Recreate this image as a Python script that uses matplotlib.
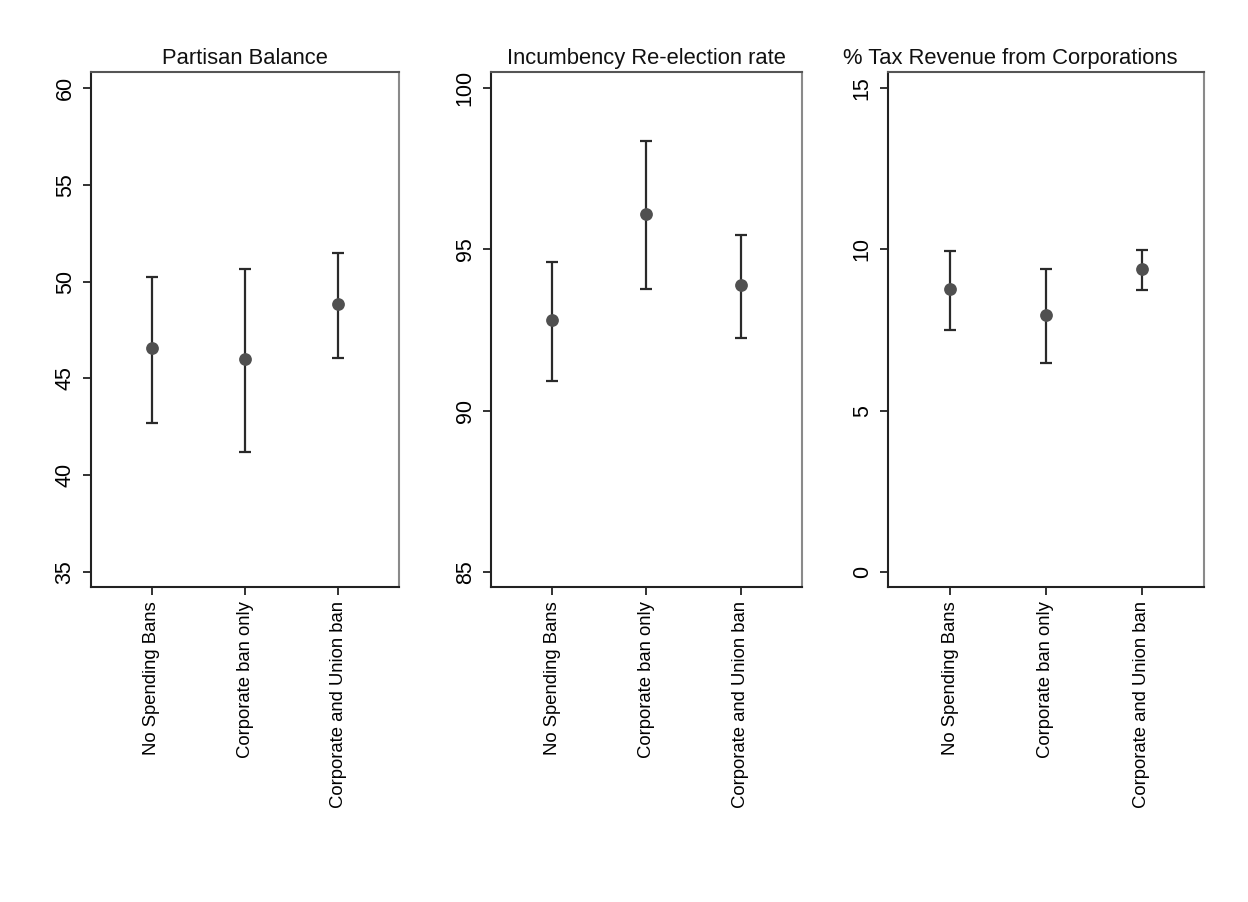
import matplotlib
matplotlib.use("Agg")
import matplotlib.pyplot as plt

plt.rcParams['font.family'] = ['Liberation Sans', 'DejaVu Sans']

categories = ["No Spending Bans", "Corporate ban only", "Corporate and Union ban"]

titles = ["Partisan Balance", "Incumbency Re-election rate", "% Tax Revenue from Corporations"]

partisan_mean = [46.55, 46.00, 48.83]
partisan_low = [42.71, 41.18, 46.07]
partisan_high = [50.25, 50.64, 51.46]

incumb_mean = [92.81, 96.10, 93.90]
incumb_low = [90.93, 93.76, 92.27]
incumb_high = [94.60, 98.37, 95.44]

tax_mean = [8.76, 7.96, 9.40]
tax_low = [7.52, 6.47, 8.74]
tax_high = [9.95, 9.38, 9.97]

yticks_list = [[35, 40, 45, 50, 55, 60], [85, 90, 95, 100], [0, 5, 10, 15]]
ylims = [(34.23, 60.83), (84.54, 100.5), (-0.46, 15.5)]

means = [partisan_mean, incumb_mean, tax_mean]
lows = [partisan_low, incumb_low, tax_low]
highs = [partisan_high, incumb_high, tax_high]

W, H = 1248, 902
fig = plt.figure(figsize=(W / 100, H / 100), dpi=100)
panel_px = [(91, 399), (491, 802), (888, 1204)]
title_x = [0.5, 0.5, 0.386]
top_px, bot_px = 72, 587

x = [1, 2, 3]
for i in range(3):
    l, r = panel_px[i]
    ax = fig.add_axes([l / W, 1 - bot_px / H, (r - l) / W, (bot_px - top_px) / H])
    m = means[i]
    lo = [m[k] - lows[i][k] for k in range(3)]
    hi = [highs[i][k] - m[k] for k in range(3)]
    ax.errorbar(x, m, yerr=[lo, hi], fmt='none', ecolor='#2a2a2a', elinewidth=1.6,
                capsize=4.5, capthick=1.6, zorder=2)
    ax.plot(x, m, 'o', color='#505050', markersize=9.2, markeredgewidth=0, zorder=3)
    ax.set_xlim(0.35, 3.65)
    ax.set_ylim(*ylims[i])
    ax.set_yticks(yticks_list[i])
    ax.set_yticklabels([str(t) for t in yticks_list[i]], rotation=90, va='center', fontsize=15.5)
    ax.set_xticks(x)
    ax.set_xticklabels(categories, rotation=90, fontsize=13.3, va='top')
    ax.tick_params(axis='both', direction='out', length=6, width=1.3, color='#222222', pad=4)
    ax.tick_params(axis='y', pad=5)
    ax.set_title(titles[i], fontsize=15.8, pad=6, color='#111111', x=title_x[i])
    ax.spines['left'].set_color('#222222')
    ax.spines['bottom'].set_color('#222222')
    ax.spines['top'].set_color('#555555')
    ax.spines['right'].set_color('#8a8a8a')
    for s in ax.spines.values():
        s.set_linewidth(1.5)

fig.savefig("out.png", dpi=100, facecolor='white')
